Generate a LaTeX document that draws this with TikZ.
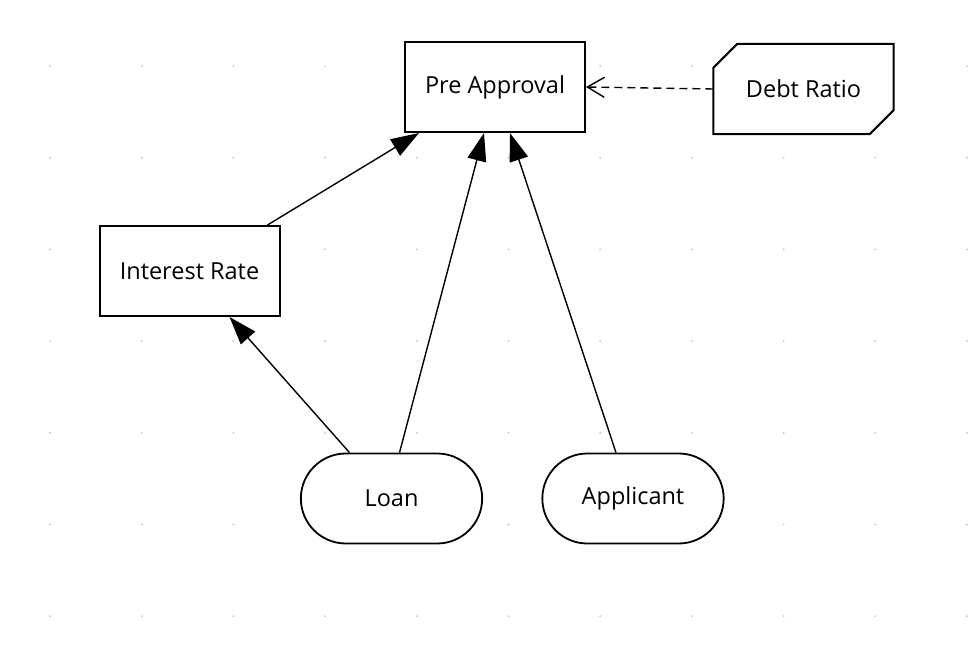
\documentclass[tikz,border=0pt]{standalone}
\usepackage{fontspec}
\setmainfont{Open Sans}
\usepackage{tikz}
\usetikzlibrary{arrows.meta,shapes.misc}
\tikzstyle{decision}=[rectangle, draw, fill=white, line width=2pt,% plain box
minimum width=180pt, minimum height=90pt, font=\fontsize{23.5}{28}\selectfont]
\tikzstyle{knowledge}=[rectangle, fill=white,% outline drawn after
minimum width=180pt, minimum height=90pt, font=\fontsize{23.5}{28}\selectfont]
\tikzstyle{inputdata}=[rounded rectangle, draw, fill=white, line width=1.8pt,
minimum width=188pt, minimum height=90pt, font=\fontsize{23.5}{28}\selectfont]
\tikzstyle{req}=[line width=1.4pt, -{Triangle[length=28pt,width=19pt]}]
\tikzstyle{kreq}=[line width=1.4pt, dash pattern=on 8pt off 5pt, -{Straight Barb[length=17pt,width=20pt]}]

\begin{document}
\begin{tikzpicture}[x=1pt,y=-1pt]
\useasboundingbox (0,0) rectangle (974,660);
\foreach \i in {0,...,10}
  \foreach \j in {0,...,6}
    \fill[gray!40] (50+91.7*\i, 66+91.7*\j) circle (1.1pt);
\node[decision] (pa) at (495,87) {Pre Approval};
\node[knowledge] (dr) at (803.5,89) {Debt Ratio};
\draw[line width=2pt] ([yshift=-24pt]dr.north west) -- ([xshift=24pt]dr.north west)
  -- (dr.north east) -- ([yshift=24pt]dr.south east) -- ([xshift=-24pt]dr.south east)
  -- (dr.south west) -- cycle;
\node[decision] (ir) at (189.5,271) {Interest Rate};
\node[inputdata] (loan) at (391.5,498.5) {Loan};
\node[inputdata] (app) at (633,498.5) {Applicant};
\draw[req] ([xshift=-13pt]ir.north east) -- ([xshift=15pt]pa.south west);
\draw[req] ([xshift=8pt]loan.north) -- ([xshift=-11pt]pa.south);
\draw[req] ([xshift=-17pt]app.north) -- ([xshift=15pt]pa.south);
\draw[req] ([xshift=-42pt]loan.north) -- ([xshift=40pt]ir.south);
\draw[kreq] (dr.west) -- (pa.east);
\end{tikzpicture}
\end{document}
